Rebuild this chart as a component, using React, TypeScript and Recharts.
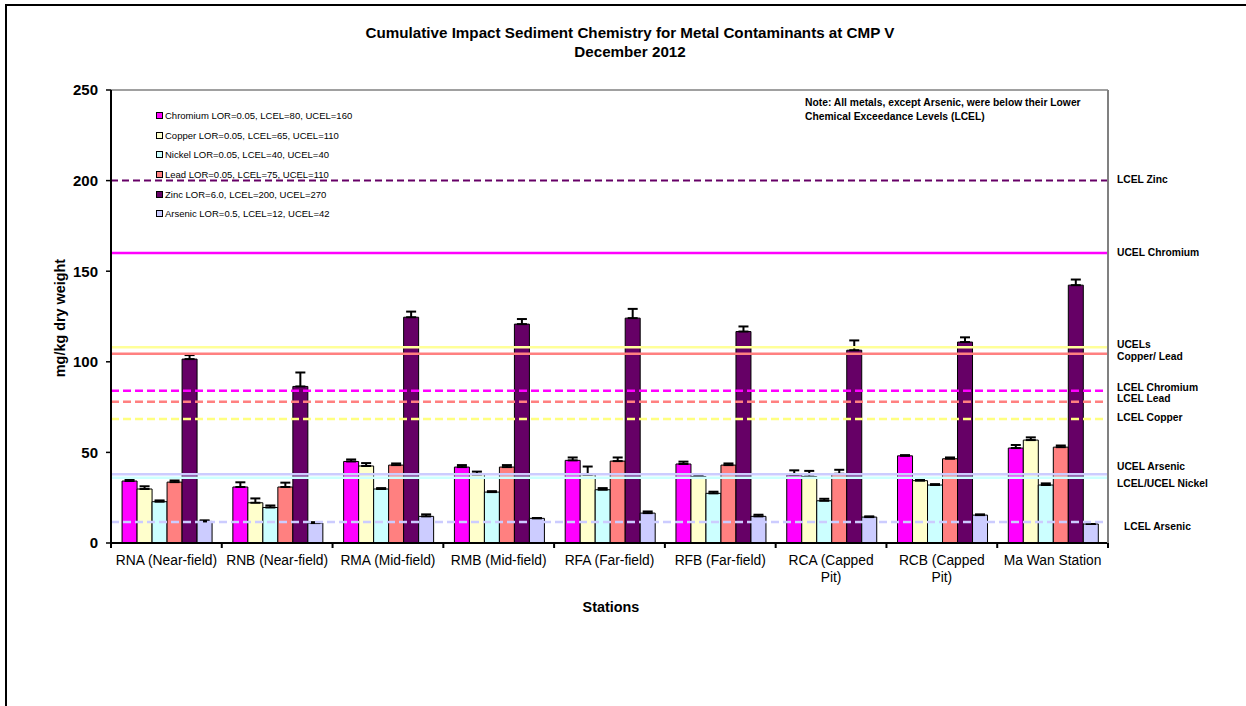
import React from 'react';
import { BarChart, Bar, XAxis, YAxis, ErrorBar, ReferenceLine } from 'recharts';

const FONT = '"Liberation Sans", Arial, Helvetica, sans-serif';

// ---------- data ----------
const stations = [
  'RNA (Near-field)',
  'RNB (Near-field)',
  'RMA (Mid-field)',
  'RMB (Mid-field)',
  'RFA (Far-field)',
  'RFB (Far-field)',
  'RCA (Capped Pit)',
  'RCB (Capped Pit)',
  'Ma Wan Station',
];
const stationTickLines = [
  ['RNA (Near-field)'],
  ['RNB (Near-field)'],
  ['RMA (Mid-field)'],
  ['RMB (Mid-field)'],
  ['RFA (Far-field)'],
  ['RFB (Far-field)'],
  ['RCA (Capped', 'Pit)'],
  ['RCB (Capped', 'Pit)'],
  ['Ma Wan Station'],
];

const chromium = [34.2, 30.9, 45.0, 41.9, 45.6, 43.6, 37.5, 48.1, 52.4];
const chromiumErr = [1.1, 2.6, 1.1, 1.1, 1.6, 1.3, 2.6, 0.4, 1.7];
const copper = [29.8, 22.2, 42.5, 37.8, 37.7, 36.7, 36.7, 34.4, 56.8];
const copperErr = [1.5, 2.4, 1.6, 1.6, 4.5, 0.3, 3.1, 0.7, 1.5];
const nickel = [22.8, 19.6, 29.8, 28.1, 29.4, 27.4, 23.3, 32.0, 32.0];
const nickelErr = [0.7, 1.1, 0.5, 0.5, 0.9, 0.9, 1.1, 0.5, 0.9];
const lead = [33.6, 30.9, 43.0, 41.9, 45.2, 43.0, 38.2, 46.5, 52.9];
const leadErr = [0.9, 2.4, 0.9, 1.1, 2.0, 0.9, 2.2, 0.7, 0.9];
const zinc = [101.5, 86.4, 124.6, 120.8, 124.1, 116.7, 106.4, 110.9, 142.3];
const zincErr = [2.2, 7.7, 3.1, 2.8, 5.1, 2.8, 5.4, 2.6, 3.1];
const arsenic = [11.9, 11.0, 14.7, 13.6, 16.5, 14.7, 14.3, 15.4, 10.5];
const arsenicErr = [0.6, 0.5, 1.1, 0.2, 0.9, 0.9, 0.4, 0.4, 0];

const seriesNames = [
  'Chromium LOR=0.05, LCEL=80, UCEL=160',
  'Copper LOR=0.05, LCEL=65, UCEL=110',
  'Nickel LOR=0.05, LCEL=40, UCEL=40',
  'Lead LOR=0.05, LCEL=75, UCEL=110',
  'Zinc LOR=6.0, LCEL=200, UCEL=270',
  'Arsenic LOR=0.5, LCEL=12, UCEL=42',
];
const seriesKeys = ['chromium', 'copper', 'nickel', 'lead', 'zinc', 'arsenic'];
const seriesValues = [chromium, copper, nickel, lead, zinc, arsenic];
const seriesErrors = [chromiumErr, copperErr, nickelErr, leadErr, zincErr, arsenicErr];

const yTicks = [0, 50, 100, 150, 200, 250];

// reference levels (as drawn)
const refIds = ['lcelZinc', 'ucelChromium', 'ucelCopper', 'ucelLead', 'lcelChromium', 'lcelLead', 'lcelCopper', 'ucelArsenic', 'nickel', 'lcelArsenic'];
const refValues = [200, 160, 108, 104.5, 84, 78, 68.5, 38, 36, 11.6];
const refLabelText = [
  ['LCEL Zinc'],
  ['UCEL Chromium'],
  ['UCELs', 'Copper/ Lead'],
  [],
  ['LCEL Chromium'],
  ['LCEL Lead'],
  ['LCEL Copper'],
  ['UCEL Arsenic'],
  ['LCEL/UCEL Nickel'],
  ['LCEL Arsenic'],
];

const noteLines = [
  'Note: All metals, except Arsenic, were below their Lower',
  'Chemical Exceedance Levels (LCEL)',
];

// ---------- styles ----------
const seriesColors = ['#FF00FF', '#FFFFCC', '#CCFFFF', '#FF8080', '#660066', '#CCCCFF'];

const refStyles: Record<string, { stroke: string; width: number; dash?: string; dy: number; dx: number }> = {
  lcelZinc: { stroke: '#660066', width: 2, dash: '7 4', dy: -1, dx: 0 },
  ucelChromium: { stroke: '#FF00FF', width: 2.5, dy: -1, dx: 0 },
  ucelCopper: { stroke: '#FFFF99', width: 2.5, dy: -2.5, dx: 0 },
  ucelLead: { stroke: '#FF8080', width: 2.5, dy: 0, dx: 0 },
  lcelChromium: { stroke: '#FF00FF', width: 2.5, dash: '8 4', dy: -3.5, dx: 0 },
  lcelLead: { stroke: '#FF8080', width: 2.5, dash: '8 4', dy: -3.5, dx: 0 },
  lcelCopper: { stroke: '#FFFF80', width: 2.5, dash: '8 4', dy: -1, dx: 0 },
  ucelArsenic: { stroke: '#CCCCFF', width: 2.5, dy: -8, dx: 0 },
  nickel: { stroke: '#CCFFFF', width: 2.5, dy: 6, dx: 0 },
  lcelArsenic: { stroke: '#CCCCFF', width: 2.5, dash: '8 4', dy: 4, dx: 7 },
};

const data = stations.map((s, i) => {
  const row: any = { station: s };
  seriesKeys.forEach((k, j) => {
    row[k] = seriesValues[j][i];
    row[k + 'Err'] = [0, seriesErrors[j][i]];
  });
  return row;
});

const StationTick = (props: any) => {
  const { x, y, index, visibleTicksCount, width } = props;
  const count = visibleTicksCount || stations.length;
  const band = (typeof width === 'number' && width > 0 ? width : 997) / count;
  const axisY = y - 8;
  const lines = stationTickLines[index] || [String(props.payload?.value ?? '')];
  return (
    <g>
      <line x1={x - band / 2} x2={x - band / 2} y1={axisY} y2={axisY + 5} stroke="#000" strokeWidth={2} />
      {index === count - 1 && (
        <line x1={x + band / 2} x2={x + band / 2} y1={axisY} y2={axisY + 5} stroke="#000" strokeWidth={2} />
      )}
      <text x={x} y={axisY + 21.5} textAnchor="middle" fontFamily={FONT} fontSize={13.8} fill="#000">
        {lines.map((l: string, i: number) => (
          <tspan key={i} x={x} y={axisY + 21.5 + i * 17}>
            {l}
          </tspan>
        ))}
      </text>
    </g>
  );
};

const makeRightLabel = (lines: string[], dy: number, dx: number) => (p: any) => {
  const vb = p.viewBox || {};
  if (!lines.length || vb.x == null) return null;
  const x = vb.x + vb.width + 9 + dx;
  const y = vb.y + dy + 3.6;
  return (
    <text x={x} y={y} fontFamily={FONT} fontSize={10.3} fontWeight="bold" fill="#000">
      {lines.map((l, i) => (
        <tspan key={i} x={x} y={y + i * 11.7}>
          {l}
        </tspan>
      ))}
    </text>
  );
};

export default function App() {
  return (
    <div
      style={{
        position: 'absolute',
        left: 0,
        top: 0,
        width: 1246,
        height: 706,
        overflow: 'hidden',
        background: '#fff',
        fontFamily: FONT,
      }}
    >
      <div
        style={{
          position: 'absolute',
          left: 5,
          top: 4,
          width: 1400,
          height: 900,
          borderTop: '2px solid #000',
          borderLeft: '2px solid #000',
        }}
      />
      <div
        style={{
          position: 'absolute',
          left: 0,
          top: 23,
          width: 1260,
          textAlign: 'center',
          fontWeight: 'bold',
          fontSize: 15.2,
          lineHeight: '19px',
          color: '#000',
        }}
      >
        <div>Cumulative Impact Sediment Chemistry for Metal Contaminants at CMP V</div>
        <div>December 2012</div>
      </div>

      <div style={{ position: 'absolute', left: 0, top: 0 }}>
        <BarChart
          width={1246}
          height={706}
          data={data}
          margin={{ top: 90, right: 137, bottom: 123, left: 51 }}
          barCategoryGap="10%"
          barGap={0}
        >
          <XAxis
            dataKey="station"
            height={40}
            interval={0}
            tickLine={false}
            tickSize={6}
            tickMargin={2}
            axisLine={{ stroke: '#000', strokeWidth: 2 }}
            tick={<StationTick />}
          />
          <YAxis
            width={60}
            domain={[0, 250]}
            ticks={yTicks}
            interval={0}
            tickSize={5}
            tickMargin={8}
            axisLine={{ stroke: '#000', strokeWidth: 2 }}
            tickLine={{ stroke: '#000', strokeWidth: 1.5 }}
            tick={{ fill: '#000', fontSize: 15, fontWeight: 'bold', fontFamily: FONT }}
          />
          <YAxis
            yAxisId="right"
            orientation="right"
            width={1}
            domain={[0, 250]}
            tick={false}
            tickLine={false}
            axisLine={{ stroke: '#808080', strokeWidth: 2 }}
          />
          {seriesKeys.map((k, j) => (
            <Bar
              key={k}
              dataKey={k}
              name={seriesNames[j]}
              fill={seriesColors[j]}
              stroke="#000"
              strokeWidth={1}
              isAnimationActive={false}
            >
              <ErrorBar dataKey={k + 'Err'} direction="y" width={5} stroke="#000" strokeWidth={2} />
            </Bar>
          ))}
          <ReferenceLine y={250} stroke="#808080" strokeWidth={1.5} />
          {refIds.map((id, i) => {
            const st = refStyles[id];
            const lab = refLabelText[i];
            return (
              <ReferenceLine
                key={id}
                y={refValues[i]}
                stroke={st.stroke}
                strokeWidth={st.width}
                strokeDasharray={st.dash}
                label={lab.length ? makeRightLabel(lab, st.dy, st.dx) : undefined}
              />
            );
          })}
        </BarChart>
      </div>

      {/* legend */}
      <div style={{ position: 'absolute', left: 156, top: 106 }}>
        {seriesNames.map((n, j) => (
          <div
            key={n}
            style={{ display: 'flex', alignItems: 'center', height: 19.6, fontSize: 9.5, color: '#000', whiteSpace: 'nowrap' }}
          >
            <span
              style={{
                display: 'inline-block',
                width: 5,
                height: 5,
                background: seriesColors[j],
                border: '1px solid #000',
                marginRight: 2,
              }}
            />
            <span>{n}</span>
          </div>
        ))}
      </div>

      {/* note */}
      <div
        style={{
          position: 'absolute',
          left: 805,
          top: 96,
          fontSize: 10.3,
          fontWeight: 'bold',
          lineHeight: '14px',
          color: '#000',
          whiteSpace: 'nowrap',
        }}
      >
        {noteLines.map((l) => (
          <div key={l}>{l}</div>
        ))}
      </div>

      {/* axis titles */}
      <div
        style={{
          position: 'absolute',
          left: 60,
          top: 318,
          transform: 'translate(-50%, -50%) rotate(-90deg)',
          fontSize: 14.4,
          fontWeight: 'bold',
          whiteSpace: 'nowrap',
          color: '#000',
        }}
      >
        mg/kg dry weight
      </div>
      <div
        style={{
          position: 'absolute',
          left: 611,
          top: 607,
          transform: 'translate(-50%, -50%)',
          fontSize: 14.4,
          fontWeight: 'bold',
          whiteSpace: 'nowrap',
          color: '#000',
        }}
      >
        Stations
      </div>
    </div>
  );
}
